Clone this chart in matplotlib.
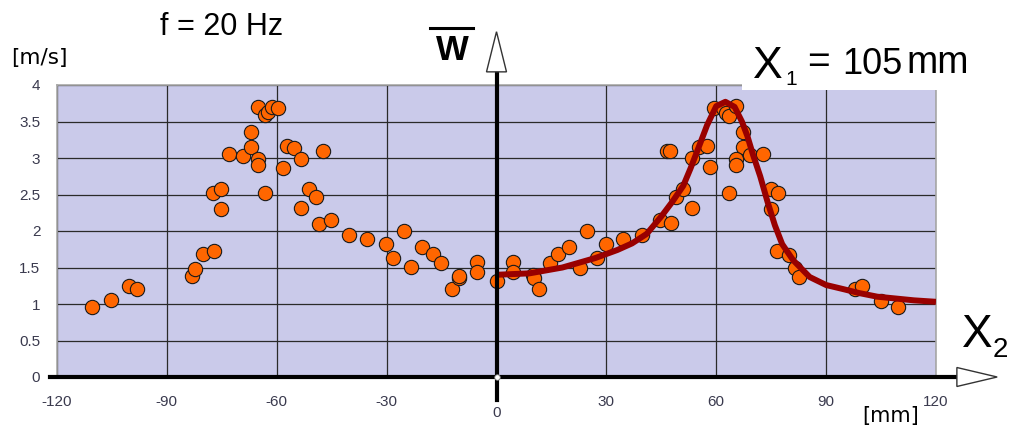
import matplotlib
matplotlib.use("Agg")
import matplotlib.pyplot as plt
from matplotlib.patches import Polygon, Rectangle
from matplotlib.lines import Line2D

# measured velocity, left half (x < 0) and right half (x > 0)
left_x = [-110.4, -105.3, -100.3, -98.2, -83.1, -82.3, -80.2, -77.2, -77.4, -75.2,
          -75.2, -73.1, -69.3, -67.1, -67.1, -65.1, -65.1, -65.2, -63.2, -62.3,
          -61.2, -59.6, -63.3, -58.3, -57.3, -55.3, -53.3, -47.5, -53.4, -51.1,
          -49.3, -48.4, -45.2, -40.4, -35.3, -30.3, -28.2, -25.2, -23.3, -20.3,
          -17.3, -15.2, -12.2, -10.3, -10.2, -5.2, -5.2, 0.0]
left_y = [0.96, 1.05, 1.24, 1.21, 1.38, 1.48, 1.68, 1.73, 2.52, 2.58,
          2.30, 3.05, 3.03, 3.35, 3.15, 2.98, 2.91, 3.70, 3.59, 3.63,
          3.70, 3.69, 2.52, 2.86, 3.17, 3.14, 2.99, 3.10, 2.31, 2.58,
          2.46, 2.10, 2.15, 1.94, 1.89, 1.82, 1.63, 2.00, 1.51, 1.78,
          1.68, 1.56, 1.21, 1.35, 1.39, 1.57, 1.44, 1.32]

right_x = [4.6, 4.6, 9.9, 10.2, 11.7, 14.6, 16.8, 19.7, 22.8, 24.6,
           27.5, 29.8, 34.6, 39.8, 44.6, 47.7, 49.0, 51.0, 53.5, 53.3,
           55.4, 57.4, 58.3, 46.6, 47.4, 59.4, 61.8, 62.7, 63.6, 65.4,
           63.5, 67.2, 67.4, 65.4, 65.4, 69.2, 72.9, 74.9, 76.8, 74.9,
           76.7, 79.9, 81.5, 82.7, 97.9, 99.7, 104.9, 109.7]
right_y = [1.57, 1.44, 1.40, 1.36, 1.21, 1.56, 1.68, 1.78, 1.50, 2.00,
           1.63, 1.82, 1.89, 1.95, 2.15, 2.11, 2.47, 2.58, 2.31, 3.00,
           3.15, 3.17, 2.87, 3.10, 3.10, 3.69, 3.68, 3.61, 3.57, 3.71,
           2.52, 3.35, 3.15, 2.99, 2.91, 3.04, 3.05, 2.58, 2.52, 2.30,
           1.73, 1.67, 1.49, 1.37, 1.21, 1.25, 1.04, 0.96]

# resonance curve
curve_x = [0, 9, 18, 27, 33, 37, 41, 45, 48, 51, 53, 55, 57.5, 60, 62.5, 65,
           67, 68.5, 70, 72, 74, 76, 78, 81, 85.5, 90, 95, 99, 104, 108, 114, 120]
curve_y = [1.40, 1.42, 1.50, 1.63, 1.74, 1.83, 1.96, 2.20, 2.40, 2.62, 2.86, 3.12,
           3.45, 3.71, 3.77, 3.70, 3.50, 3.30, 3.05, 2.75, 2.40, 2.08, 1.82, 1.60,
           1.37, 1.26, 1.20, 1.15, 1.10, 1.08, 1.05, 1.03]

x_ticks = [-120, -90, -60, -30, 0, 30, 60, 90, 120]
x_labels = ["-120", "-90", "-60", "-30", "", "30", "60", "90", "120"]
y_ticks = [0, 0.5, 1, 1.5, 2, 2.5, 3, 3.5, 4]
y_labels = ["0", "0.5", "1", "1.5", "2", "2.5", "3", "3.5", "4"]

W, H = 1011, 430
plt.rcParams["font.family"] = ["Liberation Sans", "DejaVu Sans"]

fig = plt.figure(figsize=(W / 100, H / 100), dpi=100)
ax = fig.add_axes([57 / W, 53 / H, 879 / W, 292 / H])
ax.set_facecolor("#cacaea")
ax.set_xlim(-120, 120)
ax.set_ylim(0, 4)

ax.set_xticks(x_ticks)
ax.set_xticklabels(x_labels)
ax.set_yticks(y_ticks)
ax.set_yticklabels(y_labels)
ax.tick_params(length=0, labelsize=11, labelcolor="#3a3a4e")
ax.tick_params(axis="y", pad=12)
ax.tick_params(axis="x", pad=13)
ax.grid(True, color="#2a2a2a", lw=0.9)
ax.set_axisbelow(True)

for side in ["left", "top", "right"]:
    ax.spines[side].set_color("#a8a8a8")
    ax.spines[side].set_linewidth(1.2)
ax.spines["bottom"].set_visible(False)

# data points and fitted curve
ax.plot(left_x, left_y, "o", ms=10.3, mfc="#ff6600", mec="#1a1a1a", mew=0.8, zorder=4)
ax.plot(right_x, right_y, "o", ms=10.3, mfc="#ff6600", mec="#1a1a1a", mew=0.8, zorder=4)
ax.plot(curve_x, curve_y, color="#990000", lw=4.3, solid_capstyle="butt", zorder=5)

# horizontal axis with open arrow
ax.plot([-121.9, 125.7], [0, 0], color="black", lw=3, clip_on=False, zorder=6)
ax.add_patch(Polygon([(125.7, 0.13), (125.7, -0.13), (136.7, 0)], closed=True,
                     facecolor="white", edgecolor="#333333", lw=1, clip_on=False, zorder=7))

# vertical axis with open arrow
ax.plot([0, 0], [-0.315, 4.18], color="black", lw=3, clip_on=False, zorder=6)
ax.add_patch(Polygon([(-2.73, 4.18), (2.73, 4.18), (0, 4.73)], closed=True,
                     facecolor="white", edgecolor="#333333", lw=1, clip_on=False, zorder=7))
ax.plot([0], [0], "o", ms=4, mfc="white", mec="#777777", mew=0.6, clip_on=False, zorder=8)
ax.text(0, -0.49, "0", ha="center", va="center", fontsize=11, color="#3a3a4e")

# white label box over the top right of the plot
ax.add_patch(Rectangle((67.0, 3.93), 53.5, 0.25, facecolor="white", edgecolor="none",
                       clip_on=False, zorder=3))

def fx(px):
    return px / W

def fy(py):
    return 1 - py / H

fig.text(fx(160), fy(35), "f = 20 Hz", fontsize=22, va="baseline", ha="left")
fig.text(fx(11), fy(58), "[m/s]", fontsize=15.5, va="center", ha="left", family="DejaVu Sans")
fig.text(fx(862), fy(416), "[mm]", fontsize=15, va="center", ha="left", family="DejaVu Sans")

fig.text(fx(436), fy(60), "W", fontsize=25, weight="bold", va="baseline", ha="left")
fig.add_artist(Line2D([fx(430), fx(473)], [fy(28), fy(28)], color="black", lw=2.2))

fig.text(fx(753), fy(78), "X", fontsize=32, va="baseline", ha="left")
fig.text(fx(785), fy(85), "1", fontsize=15, va="baseline", ha="left")
fig.text(fx(807), fy(73), "=", fontsize=28, va="baseline", ha="left")
fig.text(fx(842), fy(74), "105", fontsize=26, va="baseline", ha="left")
fig.text(fx(906), fy(73), "mm", fontsize=27, va="baseline", ha="left")

fig.text(fx(962), fy(347), "X", fontsize=33, va="baseline", ha="left")
fig.text(fx(993), fy(357), "2", fontsize=20, va="baseline", ha="left")

fig.savefig("out.png", dpi=100)
